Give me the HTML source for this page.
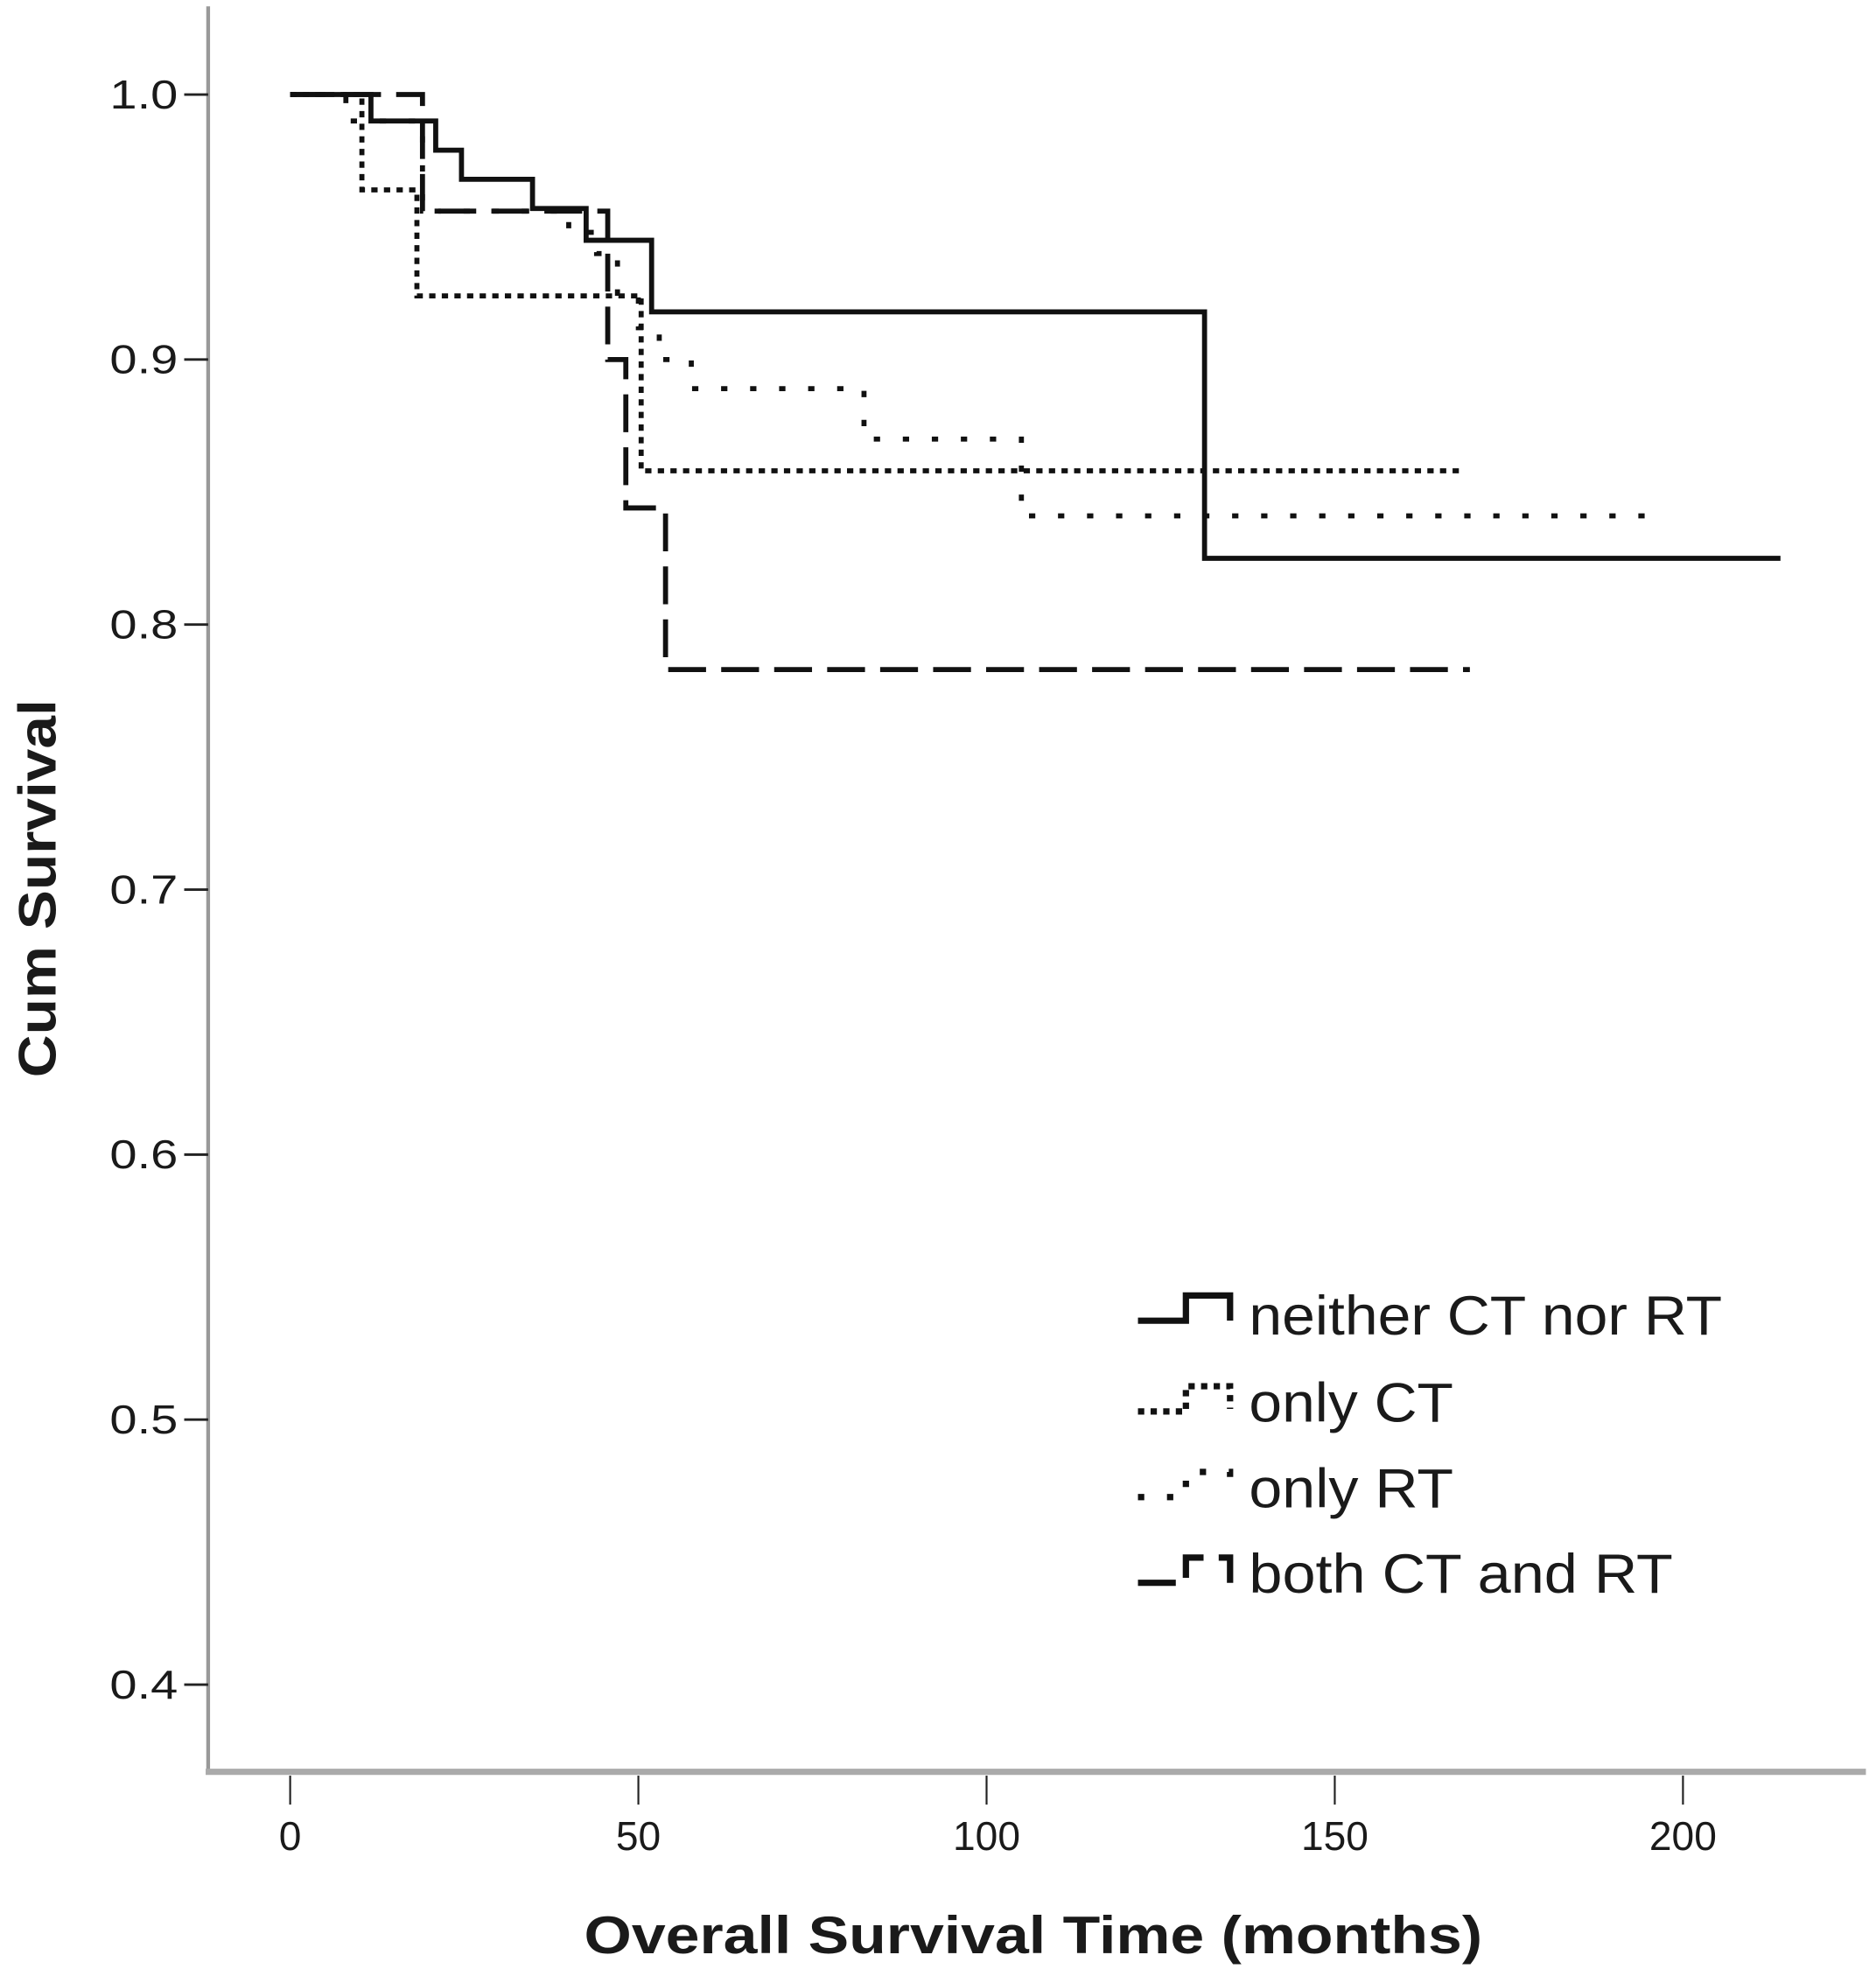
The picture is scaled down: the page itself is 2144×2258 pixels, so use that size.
<!DOCTYPE html>
<html><head><meta charset="utf-8"><style>
html,body{margin:0;padding:0;background:#fff;}
svg{display:block;}
text{font-family:"Liberation Sans",sans-serif;fill:#1a1a1a;}
</style></head><body>
<svg id="chart" width="2144" height="2258" viewBox="0 0 1487 1568" preserveAspectRatio="none" xmlns="http://www.w3.org/2000/svg">
<g id="axes">
<line x1="165" y1="5" x2="165" y2="1405" stroke="#999" stroke-width="3"/>
<line x1="163" y1="1406" x2="1479" y2="1406" stroke="#aaa" stroke-width="5"/>
<text transform="translate(44,705) rotate(-90)" text-anchor="middle" font-size="42" font-weight="bold" textLength="300" lengthAdjust="spacingAndGlyphs">Cum Survival</text>
<text x="819" y="1550" text-anchor="middle" font-size="42" font-weight="bold" textLength="712" lengthAdjust="spacingAndGlyphs">Overall Survival Time (months)</text>
</g>
<g id="ticks"></g>
<g id="series"></g>
<g id="legend">
<g>
<path d="M902,1048 H940 V1028 H975 V1048" fill="none" stroke="#111" stroke-width="5"/>
<text x="990" y="1059" font-size="44" textLength="375" lengthAdjust="spacingAndGlyphs">neither CT nor RT</text></g>
<g>
<path d="M902,1120 H940 V1100 H975 V1118" fill="none" stroke="#111" stroke-width="5" stroke-dasharray="5,5"/>
<text x="990" y="1128" font-size="44" textLength="162" lengthAdjust="spacingAndGlyphs">only CT</text></g>
<g>
<path d="M902,1188 H940 V1168 H975 V1186" fill="none" stroke="#111" stroke-width="5" stroke-dasharray="5,18"/>
<text x="990" y="1196" font-size="44" textLength="162" lengthAdjust="spacingAndGlyphs">only RT</text></g>
<g>
<path d="M902,1256 H940 V1236 H975 V1256" fill="none" stroke="#111" stroke-width="5" stroke-dasharray="30,12"/>
<text x="990" y="1264" font-size="44" textLength="336" lengthAdjust="spacingAndGlyphs">both CT and RT</text></g>
</g>
</svg>
<script>
const xTicks = [0, 50, 100, 150, 200];
const yTicks = [1.0, 0.9, 0.8, 0.7, 0.6, 0.5, 0.4];
const neitherT = [0, 11.6, 20.9, 24.6, 34.8, 42.5, 51.9, 131.3, 214];
const neitherS = [1.0, 0.990, 0.979, 0.968, 0.957, 0.945, 0.918, 0.825, 0.825];
const onlyCtT = [0, 10.3, 18.2, 50.4, 168.5];
const onlyCtS = [1.0, 0.964, 0.924, 0.858, 0.858];
const onlyRtT = [0, 8, 19, 40, 44, 47, 50, 53, 57.6, 82.4, 105, 195];
const onlyRtS = [1.0, 0.99, 0.956, 0.948, 0.94, 0.925, 0.912, 0.900, 0.889, 0.870, 0.841, 0.841];
const bothT = [0, 19, 45.6, 48.2, 53.9, 169.4];
const bothS = [1.0, 0.956, 0.900, 0.844, 0.783, 0.783];

const NS = "http://www.w3.org/2000/svg";
function xs(t){ return 230 + t * 5.52; }
function ys(s){ return 75 + (1 - s) * 2103; }
const tg = document.getElementById('ticks');
xTicks.forEach(v => {
  const l = document.createElementNS(NS, 'line');
  l.setAttribute('x1', xs(v)); l.setAttribute('x2', xs(v));
  l.setAttribute('y1', 1409); l.setAttribute('y2', 1432);
  l.setAttribute('stroke', '#222'); l.setAttribute('stroke-width', 1.5);
  
  
  tg.appendChild(l);
  const t = document.createElementNS(NS, 'text');
  t.setAttribute('x', xs(v)); t.setAttribute('y', 1468);
  t.setAttribute('text-anchor', 'middle'); t.setAttribute('font-size', 32);
  t.textContent = v;
  
  
  tg.appendChild(t);
});
yTicks.forEach(v => {
  const l = document.createElementNS(NS, 'line');
  l.setAttribute('x1', 146); l.setAttribute('x2', 165);
  l.setAttribute('y1', ys(v)); l.setAttribute('y2', ys(v));
  l.setAttribute('stroke', '#222'); l.setAttribute('stroke-width', 2);
  
  
  tg.appendChild(l);
  const t = document.createElementNS(NS, 'text');
  t.setAttribute('x', 141); t.setAttribute('y', ys(v) + 11);
  t.setAttribute('text-anchor', 'end'); t.setAttribute('font-size', 32);
  t.setAttribute('textLength', 54); t.setAttribute('lengthAdjust', 'spacingAndGlyphs');
  t.textContent = v.toFixed(1);
  
  
  tg.appendChild(t);
});
const sg = document.getElementById('series');
function stepPath(T, S, dash, name){
  let d = 'M' + xs(T[0]) + ',' + ys(S[0]);
  for (let i = 1; i < T.length; i++){
    d += ' H' + xs(T[i]) + ' V' + ys(S[i]);
  }
  const p = document.createElementNS(NS, 'path');
  p.setAttribute('d', d);
  p.setAttribute('fill', 'none'); p.setAttribute('stroke', '#111');
  p.setAttribute('stroke-width', 4);
  if (dash) p.setAttribute('stroke-dasharray', dash);
  
  
  sg.appendChild(p);
}
stepPath(neitherT, neitherS, null, 'series-neither-ct-nor-rt');
stepPath(onlyCtT, onlyCtS, '5,5', 'series-only-ct');
stepPath(onlyRtT, onlyRtS, '5,18', 'series-only-rt');
stepPath(bothT, bothS, '30,12', 'series-both-ct-and-rt');
</script>
</body></html>
